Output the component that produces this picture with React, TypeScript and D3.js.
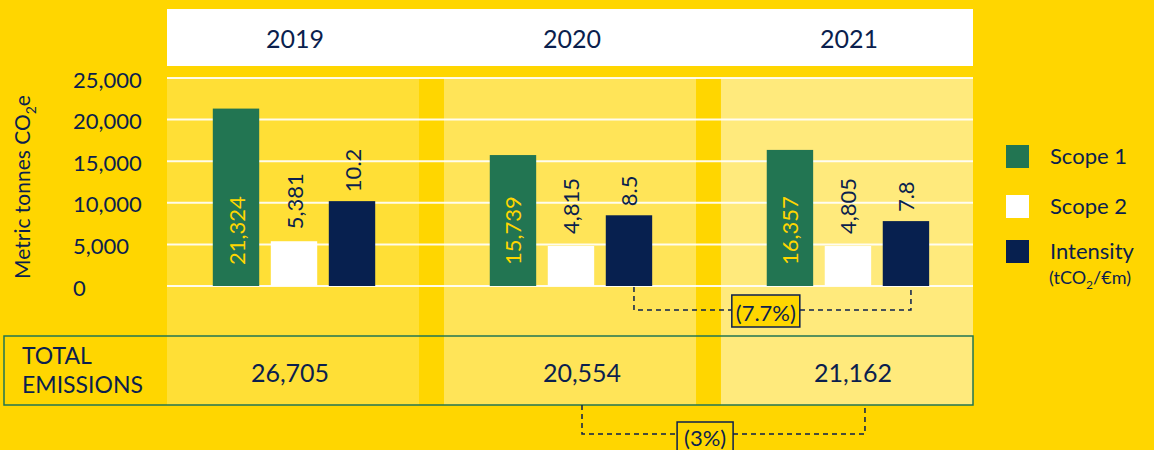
import React from "react";
import * as d3 from "d3";

// Emissions per year
const years = ["2019", "2020", "2021"];
const scope1 = [21324, 15739, 16357];
const scope2 = [5381, 4815, 4805];
const intensity = [10.2, 8.5, 7.8];
const totals = [26705, 20554, 21162];
const yTicks = [0, 5000, 10000, 15000, 20000, 25000];
const seriesKeys = ["Scope 1", "Scope 2", "Intensity"];
const intensityChange = "(7.7%)";
const totalChange = "(3%)";

const W = 1154;
const H = 450;
const FONT = "Lato, 'Open Sans', sans-serif";
const NAVY = "#0b1f4e";
const GREEN = "#227552";
const YELLOW = "#ffd600";
const PANEL_FILLS = ["#ffdf36", "#ffe458", "#ffea7c"];
const SERIES_FILLS = [GREEN, "#ffffff", "#07204f"];

export default function App() {
  const fmt = d3.format(",");
  const xPanel = d3.scaleBand<string>().domain(years).range([167, 973]).paddingInner(0.09).paddingOuter(0);
  const xSeries = d3.scaleBand<string>().domain(seriesKeys).range([40, 214]).paddingInner(0.2).paddingOuter(0.1);
  const y = d3.scaleLinear().domain([0, 25000]).range([286, 78]);
  const yI = d3.scaleLinear().domain([0, 25]).range([286, 78]);
  const bw = xPanel.bandwidth();
  const sb = xSeries.bandwidth();

  const panelTop = 78;
  const rowTop = 336;
  const rowBottom = 405;

  const barX = (yi: number, key: string) => (xPanel(years[yi]) as number) + (xSeries(key) as number);
  const barCx = (yi: number, key: string) => barX(yi, key) + sb / 2;

  // intensity bracket (2020 -> 2021)
  const ib0 = barCx(1, "Intensity") + 5;
  const ib1 = barCx(2, "Intensity") + 5;
  const ibY = 310;
  const ibMid = ib0 + (ib1 - ib0) * 0.476;
  // totals bracket (2020 -> 2021)
  const tc0 = (xPanel("2020") as number) + bw / 2 + 12;
  const tc1 = (xPanel("2021") as number) + bw / 2 + 18;
  const tbY = 434;
  const tbMid = tc0 + (tc1 - tc0) * 0.435;

  return (
    <svg width={W} height={H} style={{ position: "absolute", left: 0, top: 0 }} fontFamily={FONT}>
      <rect x={0} y={0} width={W} height={H} fill={YELLOW} />

      {/* year columns */}
      {years.map((yr, i) => (
        <rect key={yr} x={xPanel(yr)} y={panelTop} width={bw} height={rowBottom - panelTop} fill={PANEL_FILLS[i]} />
      ))}

      {/* header */}
      <rect x={167} y={9} width={806} height={57} fill="#ffffff" />
      {years.map((yr) => (
        <text key={yr} x={(xPanel(yr) as number) + bw / 2 + 2} y={48} textAnchor="middle" fontSize={25} fill={NAVY}>
          {yr}
        </text>
      ))}

      {/* gridlines */}
      {yTicks.map((t) => (
        <line key={t} x1={167} x2={973} y1={y(t)} y2={y(t)} stroke="#ffffff" strokeOpacity={0.9} strokeWidth={2} />
      ))}

      {/* y axis labels */}
      {yTicks.map((t) => (
        <text key={t} x={73} y={y(t) + 1} dominantBaseline="central" fontSize={22} fill={NAVY}>
          {fmt(t)}
        </text>
      ))}
      <text transform={`translate(30, ${187}) rotate(-90)`} textAnchor="middle" fontSize={21} fill={NAVY}>
        Metric tonnes CO<tspan fontSize={14} dy={6}>2</tspan>
        <tspan dy={-6}>e</tspan>
      </text>

      {/* bars */}
      {years.map((yr, i) => {
        const s1 = scope1[i];
        const s2 = scope2[i];
        const it = intensity[i];
        return (
          <g key={yr}>
            <rect x={barX(i, "Scope 1")} y={y(s1)} width={sb} height={y(0) - y(s1)} fill={SERIES_FILLS[0]} />
            <rect x={barX(i, "Scope 2")} y={y(s2)} width={sb} height={y(0) - y(s2)} fill={SERIES_FILLS[1]} />
            <rect x={barX(i, "Intensity")} y={yI(it)} width={sb} height={yI(0) - yI(it)} fill={SERIES_FILLS[2]} />
            <text
              transform={`translate(${barCx(i, "Scope 1")}, ${y(0) - 21}) rotate(-90)`}
              dominantBaseline="central"
              fontSize={22}
              fill={YELLOW}
            >
              {fmt(s1)}
            </text>
            <text
              transform={`translate(${barCx(i, "Scope 2")}, ${y(s2) - 12}) rotate(-90)`}
              dominantBaseline="central"
              fontSize={22}
              fill={NAVY}
            >
              {fmt(s2)}
            </text>
            <text
              transform={`translate(${barCx(i, "Intensity")}, ${yI(it) - 9}) rotate(-90)`}
              dominantBaseline="central"
              fontSize={22}
              fill={NAVY}
            >
              {it.toFixed(1)}
            </text>
          </g>
        );
      })}

      {/* intensity change bracket */}
      <path
        d={`M${ib0},${y(0) + 1}V${ibY}H${ib1}V${y(0) + 1}`}
        fill="none"
        stroke={NAVY}
        strokeWidth={1.5}
        strokeDasharray="5,4"
      />
      <rect x={ibMid - 34} y={295} width={68} height={32} fill={YELLOW} stroke={NAVY} strokeWidth={1.5} />
      <text x={ibMid} y={312} textAnchor="middle" dominantBaseline="central" fontSize={22} fill={NAVY}>
        {intensityChange}
      </text>

      {/* total emissions row */}
      <rect x={4} y={rowTop} width={969} height={rowBottom - rowTop} fill="none" stroke={GREEN} strokeWidth={1.5} />
      <text x={22} y={364} fontSize={23} fill={NAVY}>TOTAL</text>
      <text x={22} y={393} fontSize={23} fill={NAVY}>EMISSIONS</text>
      {years.map((yr, i) => (
        <text
          key={yr}
          x={(xPanel(yr) as number) + bw / 2 + (i === 0 ? -3 : i === 1 ? 12 : 6)}
          y={372}
          textAnchor="middle"
          dominantBaseline="central"
          fontSize={25}
          fill={NAVY}
        >
          {fmt(totals[i])}
        </text>
      ))}

      {/* totals change bracket */}
      <path
        d={`M${tc0},${rowBottom}V${tbY}H${tc1}V${rowBottom}`}
        fill="none"
        stroke={NAVY}
        strokeWidth={1.5}
        strokeDasharray="5,4"
      />
      <rect x={tbMid - 28} y={422} width={56} height={36} fill={YELLOW} stroke={NAVY} strokeWidth={1.5} />
      <text x={tbMid} y={437} textAnchor="middle" dominantBaseline="central" fontSize={22} fill={NAVY}>
        {totalChange}
      </text>

      {/* legend */}
      {seriesKeys.map((k, i) => {
        const ly = [145, 195, 240][i];
        return (
          <g key={k}>
            <rect x={1006} y={ly} width={23} height={23} fill={SERIES_FILLS[i]} />
            <text x={1050} y={ly + 19} fontSize={22} fill={NAVY}>
              {k}
            </text>
          </g>
        );
      })}
      <text x={1049} y={284} fontSize={18} fill={NAVY}>
        (tCO<tspan fontSize={12} dy={5}>2</tspan>
        <tspan dy={-5}>/€m)</tspan>
      </text>
    </svg>
  );
}
